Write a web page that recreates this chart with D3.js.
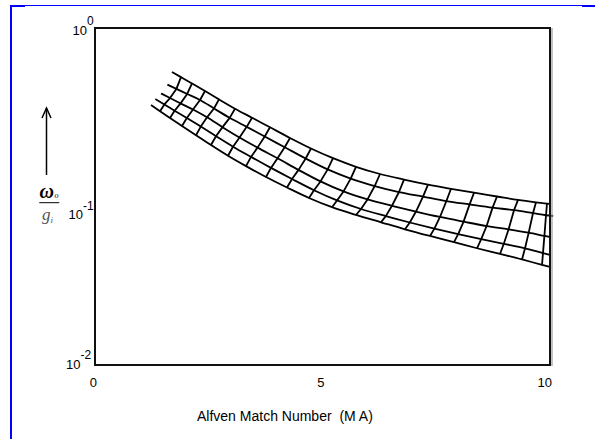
<!DOCTYPE html>
<html>
<head>
<meta charset="utf-8">
<script src="https://cdn.jsdelivr.net/npm/d3@7"></script>
<style>
  body { margin: 0; background: #fff; }
  svg text { font-family: Arial, "Liberation Sans", sans-serif; fill: #000; }
</style>
</head>
<body>
<div id="chart"></div>
<script>
// axis ticks
const xTicks = [0, 5, 10];
const yTicks = [1, 0.1, 0.01];
const yTickExp = ["0", "-1", "-2"];
const xTitle = "Alfven Match Number  (M A)";

// five family curves; first entry is where each curve starts,
// the rest are its crossings with the transverse lines
const mach1  = [1.692, 1.890, 2.132, 2.418, 2.725, 3.077, 3.451, 3.846, 4.286, 4.747, 5.231, 5.736, 6.264, 6.791, 7.319, 7.824, 8.330, 8.835, 9.297, 9.692, 9.934];
const omega1 = [0.548, 0.511, 0.469, 0.423, 0.377, 0.332, 0.2936, 0.2574, 0.2225, 0.1927, 0.1688, 0.1501, 0.1360, 0.1260, 0.1176, 0.1111, 0.1053, 0.1000, 0.0954, 0.0924, 0.0908];

const mach2  = [1.591, 1.789, 2.026, 2.308, 2.615, 2.960, 3.334, 3.730, 4.169, 4.631, 5.114, 5.620, 6.147, 6.681, 7.209, 7.723, 8.233, 8.738, 9.209, 9.626, 9.912];
const omega2 = [0.461, 0.435, 0.406, 0.374, 0.333, 0.293, 0.259, 0.227, 0.196, 0.168, 0.1448, 0.1277, 0.1154, 0.1063, 0.0999, 0.0940, 0.0898, 0.0859, 0.0829, 0.0796, 0.0774];

const mach3  = [1.451, 1.648, 1.881, 2.154, 2.462, 2.802, 3.176, 3.571, 4.011, 4.473, 4.956, 5.462, 5.989, 6.527, 7.055, 7.582, 8.101, 8.607, 9.090, 9.532, 9.877];
const omega3 = [0.409, 0.384, 0.357, 0.328, 0.295, 0.258, 0.224, 0.195, 0.1686, 0.1439, 0.1229, 0.1072, 0.0961, 0.0881, 0.0814, 0.0756, 0.0709, 0.0668, 0.0639, 0.0610, 0.0584];

const mach4  = [1.327, 1.525, 1.749, 2.018, 2.325, 2.659, 3.033, 3.429, 3.868, 4.330, 4.813, 5.319, 5.846, 6.391, 6.919, 7.459, 7.982, 8.488, 8.985, 9.451, 9.846];
const omega4 = [0.379, 0.352, 0.323, 0.292, 0.260, 0.228, 0.1975, 0.1718, 0.1478, 0.1270, 0.1090, 0.0948, 0.0843, 0.0765, 0.0701, 0.0645, 0.0598, 0.0558, 0.0524, 0.0493, 0.0461];

const mach5  = [1.231, 1.429, 1.648, 1.912, 2.220, 2.549, 2.923, 3.319, 3.758, 4.220, 4.703, 5.209, 5.736, 6.286, 6.813, 7.363, 7.890, 8.396, 8.901, 9.385, 9.824];
const omega5 = [0.349, 0.321, 0.292, 0.262, 0.231, 0.202, 0.1746, 0.1515, 0.1305, 0.1131, 0.0980, 0.0864, 0.0777, 0.0703, 0.0639, 0.0583, 0.0536, 0.0493, 0.0456, 0.0423, 0.0393];

// where each curve runs out at the right border
const machEnd  = [10, 10.07, 10, 10, 10];
const omegaEnd = [0.0903, 0.0766, 0.0575, 0.0450, 0.0382];

const W = 595, H = 439;
const svg = d3.select('#chart').append('svg')
  .attr('width', W).attr('height', H);

const x = d3.scaleLinear().domain([0, 10]).range([95, 550]);
const y = d3.scaleLog().domain([0.01, 1]).range([365, 28]);

// blue page frame
const blue = '#0000ff';
svg.append('line').attr('x1', 11).attr('x2', 11).attr('y1', 5).attr('y2', H)
  .attr('stroke', blue).attr('stroke-width', 2);
svg.append('line').attr('x1', 11).attr('x2', W).attr('y1', 5.5).attr('y2', 5.5)
  .attr('stroke', blue).attr('stroke-width', 1);
svg.append('line').attr('x1', 11).attr('x2', 25).attr('y1', 6).attr('y2', 6)
  .attr('stroke', blue).attr('stroke-width', 2);
svg.append('line').attr('x1', 582).attr('x2', W).attr('y1', 6).attr('y2', 6)
  .attr('stroke', blue).attr('stroke-width', 2);

// build the curves
const machs = [mach1, mach2, mach3, mach4, mach5];
const omegas = [omega1, omega2, omega3, omega4, omega5];
const curves = machs.map((m, k) => {
  const pts = m.map((v, j) => [v, omegas[k][j]]);
  pts.push([machEnd[k], omegaEnd[k]]);
  return pts;
});
// transverse lines join the same index on every curve (start points left open)
const crossLines = mach1.map((_, j) => machs.map((m, k) => [m[j], omegas[k][j]])).slice(1);

const mesh = svg.append('g').attr('class', 'mesh')
  .attr('fill', 'none').attr('stroke', '#000').attr('stroke-width', 1.8)
  .attr('stroke-linejoin', 'round');

mesh.selectAll('path.curve')
  .data(curves)
  .enter()
    .append('path')
    .attr('class', 'curve')
    .attr('d', d3.line().x(d => x(d[0])).y(d => y(d[1])).curve(d3.curveMonotoneX));

mesh.selectAll('path.cross')
  .data(crossLines)
  .enter()
    .append('path')
    .attr('class', 'cross')
    .attr('d', d3.line().x(d => x(d[0])).y(d => y(d[1])));

// plot box
svg.append('line').attr('x1', 552).attr('x2', 552).attr('y1', 28).attr('y2', 366)
  .attr('stroke', '#999').attr('stroke-width', 1.2);
svg.append('rect')
  .attr('x', x(0)).attr('y', y(1))
  .attr('width', x(10) - x(0)).attr('height', y(0.01) - y(1))
  .attr('fill', 'none').attr('stroke', '#111').attr('stroke-width', 2);

// x tick labels
svg.selectAll('text.xtick')
  .data(xTicks)
  .enter()
    .append('text')
    .attr('class', 'xtick')
    .attr('x', d => x(d) + 2)
    .attr('y', 387)
    .attr('text-anchor', 'end')
    .style('font-size', '13px')
    .text(d => d);

// y tick labels: 10 with superscript exponent (the 10^-1 label sits below its line in the original)
const yLabelNudge = [{dx: -8, dy: 6.5}, {dx: -12, dy: 22.5}, {dx: -14.5, dy: 3.5}];
yTicks.forEach((t, i) => {
  const bx = x(0) + yLabelNudge[i].dx, by = y(t) + yLabelNudge[i].dy;
  svg.append('text').attr('x', bx).attr('y', by)
    .attr('text-anchor', 'end').style('font-size', '13px').text('10');
  svg.append('text').attr('x', bx).attr('y', by - 9.5)
    .style('font-size', '12px').text(yTickExp[i]);
});

// x title (keeps the double space)
svg.append('text').attr('x', 197).attr('y', 420.5)
  .style('font-size', '14px').style('white-space', 'pre')
  .text(xTitle);

// y label: arrow and omega_o / g_i
svg.append('line').attr('x1', 46.5).attr('x2', 46.5).attr('y1', 108).attr('y2', 175)
  .attr('stroke', '#000').attr('stroke-width', 1.5);
svg.append('polyline').attr('points', '42,118 46.5,108 51,118')
  .attr('fill', 'none').attr('stroke', '#000').attr('stroke-width', 1.5);

const serif = '"Liberation Serif", "Times New Roman", serif';
svg.append('text').attr('x', 39.5).attr('y', 198)
  .style('font-family', serif).style('font-size', '20px')
  .style('font-weight', 'bold').style('font-style', 'italic').text('ω');
svg.append('text').attr('x', 54.5).attr('y', 198)
  .style('font-family', serif).style('font-size', '8px')
  .style('font-style', 'italic').text('o');
svg.append('line').attr('x1', 39.3).attr('x2', 59.3).attr('y1', 202.7).attr('y2', 202.7)
  .attr('stroke', '#000').attr('stroke-width', 1);
svg.append('text').attr('x', 42).attr('y', 220)
  .style('font-family', serif).style('font-size', '17px')
  .style('font-style', 'italic').style('fill', '#555').text('g');
svg.append('text').attr('x', 50.5).attr('y', 223)
  .style('font-family', serif).style('font-size', '9px')
  .style('font-style', 'italic').style('fill', '#555').text('i');
</script>
</body>
</html>
